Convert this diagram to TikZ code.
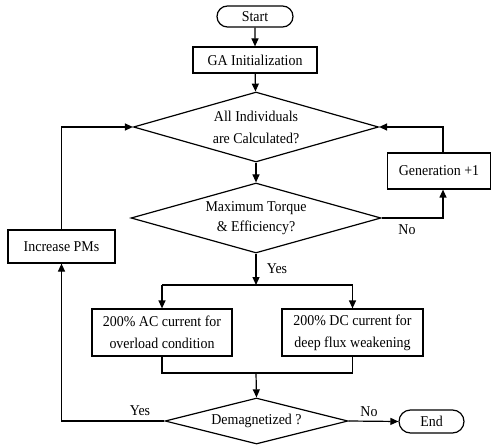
\documentclass[tikz,border=0pt]{standalone}
\usepackage{fontspec}
\setmainfont{Liberation Serif}[FakeStretch=0.93]
\usetikzlibrary{shapes.geometric,shapes.misc,arrows.meta}
\begin{document}
\begin{tikzpicture}[x=1bp,y=-1bp,
  every node/.style={font=\fontsize{15bp}{22bp}\selectfont, inner sep=0pt},
  box/.style={draw, line width=1.2bp, rectangle, align=center},
  term/.style={draw, line width=1.2bp, rounded rectangle},
  dec/.style={draw, line width=1.2bp, diamond, align=center},
  conn/.style={line width=1.2bp},
  arr/.style={line width=1.2bp, -{Triangle[length=8bp,width=7bp]}}]
\useasboundingbox (0,0) rectangle (491,445);
\node[term, minimum width=76bp, minimum height=21bp] (start) at (255,16.5) {Start};
\node[box, minimum width=124bp, minimum height=26bp] (ga) at (255,60) {GA Initialization};
\node[dec, minimum width=245bp, minimum height=70bp, aspect=3.5] (d1) at (256,127) {All Individuals\\are Calculated?};
\node[dec, minimum width=250bp, minimum height=70bp, aspect=3.5] (d2) at (256,218) {Maximum Torque\\[-2bp]\& Efficiency?};
\node[box, minimum width=103bp, minimum height=36bp] (gen) at (439,171) {Generation +1};
\node[box, minimum width=107bp, minimum height=33bp] (inc) at (61.5,246.5) {Increase PMs};
\node[box, minimum width=140bp, minimum height=47bp] (ac) at (162,332.5) {200\% AC current for\\overload condition};
\node[box, minimum width=141bp, minimum height=47bp] (dc) at (352.5,332.5) {200\% DC current for\\deep flux weakening};
\node[dec, minimum width=183bp, minimum height=46bp, aspect=4] (d3) at (256.5,421) {Demagnetized ?};
\node[term, minimum width=65bp, minimum height=23bp] (end) at (431.5,421.5) {End};
\coordinate (split) at (256,285);
\coordinate (merge) at (256,373);
\draw[arr] (start) -- (ga);
\draw[arr] (ga) -- (d1);
\draw[arr] (d1) -- (d2);
\draw[arr] (d2.south) -- (split);
\draw[conn] (ac.north |- split) -- (dc.north |- split);
\draw[arr] (ac.north |- split) -- (ac.north);
\draw[arr] (dc.north |- split) -- (dc.north);
\draw[arr] (d2.east) -| ([xshift=4bp]gen.south);
\draw[arr] ([xshift=4bp]gen.north) |- (d1.east);
\draw[arr] (inc.north) |- (d1.west);
\draw[conn] (ac.south) |- (merge);
\draw[conn] (dc.south) |- (merge);
\draw[arr] (merge) -- (d3.north);
\draw[arr] (d3.west) -| (inc.south);
\draw[arr] (d3.east) -- (end.west);
\node (no1) at (407,230) {No};
\node (yes1) at (277,269) {Yes};
\node (yes2) at (140,411) {Yes};
\node (no2) at (369,412) {No};
\end{tikzpicture}
\end{document}
